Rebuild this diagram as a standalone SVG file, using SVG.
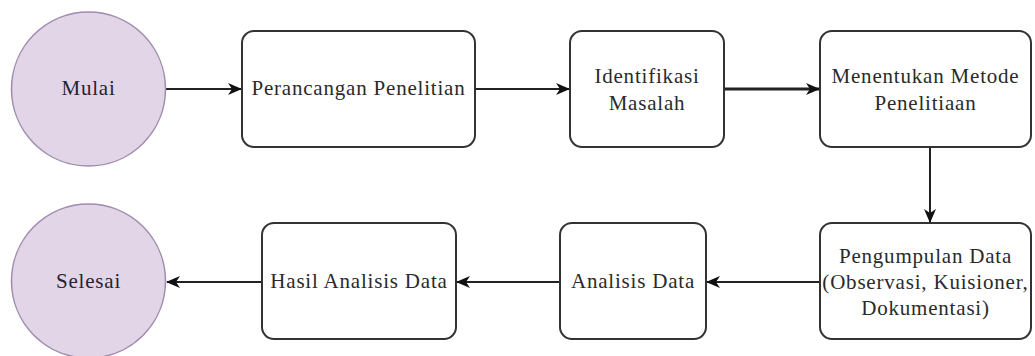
<svg xmlns="http://www.w3.org/2000/svg" width="1035" height="356" viewBox="0 0 1035 356">
<defs>
<marker id="arr" markerUnits="userSpaceOnUse" markerWidth="14" markerHeight="12" viewBox="0 0 14 12" refX="13" refY="6" orient="auto">
<path d="M0,0 L14,6 L0,12 L4,6 Z" fill="#111111"/>
</marker>
</defs>
<rect x="0" y="0" width="1035" height="356" fill="#ffffff"/>
<g id="connectors" fill="none" stroke="#222222" stroke-width="2">
<line x1="166" y1="89" x2="241" y2="89" marker-end="url(#arr)"/>
<line x1="475" y1="89" x2="569" y2="89" marker-end="url(#arr)"/>
<line x1="724" y1="89" x2="819" y2="89" stroke-width="3" marker-end="url(#arr)"/>
<line x1="930" y1="147" x2="930" y2="222" marker-end="url(#arr)"/>
<line x1="820" y1="282" x2="707" y2="282" marker-end="url(#arr)"/>
<line x1="560" y1="282" x2="457" y2="282" marker-end="url(#arr)"/>
<line x1="262" y1="282" x2="167" y2="282" marker-end="url(#arr)"/>
</g>
<g id="mulai">
<circle cx="88.5" cy="89" r="77" fill="#e1d5e7" stroke="#a08cac" stroke-width="1.5"/>
<text font-family="Liberation Serif" font-size="21" letter-spacing="0.8" fill="#2a1f33" text-anchor="middle" x="88.5" y="95">Mulai</text>
</g>
<g id="perancangan">
<rect x="242" y="31" width="233" height="116" rx="12" ry="12" fill="#ffffff" stroke="#333333" stroke-width="2"/>
<text font-family="Liberation Serif" font-size="21" letter-spacing="0.8" fill="#2a2a2a" text-anchor="middle" x="358.5" y="95">Perancangan Penelitian</text>
</g>
<g id="identifikasi">
<rect x="570" y="31" width="154" height="116" rx="12" ry="12" fill="#ffffff" stroke="#333333" stroke-width="2"/>
<text font-family="Liberation Serif" font-size="21" letter-spacing="0.8" fill="#2a2a2a" text-anchor="middle" x="647" y="83">Identifikasi</text>
<text font-family="Liberation Serif" font-size="21" letter-spacing="0.8" fill="#2a2a2a" text-anchor="middle" x="647" y="110">Masalah</text>
</g>
<g id="metode">
<rect x="820" y="31" width="211" height="116" rx="12" ry="12" fill="#ffffff" stroke="#333333" stroke-width="2"/>
<text font-family="Liberation Serif" font-size="21" letter-spacing="0.8" fill="#2a2a2a" text-anchor="middle" x="925.5" y="83">Menentukan Metode</text>
<text font-family="Liberation Serif" font-size="21" letter-spacing="0.8" fill="#2a2a2a" text-anchor="middle" x="925.5" y="110">Penelitiaan</text>
</g>
<g id="pengumpulan">
<rect x="820" y="223" width="211" height="116" rx="12" ry="12" fill="#ffffff" stroke="#333333" stroke-width="2"/>
<text font-family="Liberation Serif" font-size="21" letter-spacing="0.8" fill="#2a2a2a" text-anchor="middle" x="925.5" y="263">Pengumpulan Data</text>
<text font-family="Liberation Serif" font-size="21" letter-spacing="0.8" fill="#2a2a2a" text-anchor="middle" x="925.5" y="289">(Observasi, Kuisioner,</text>
<text font-family="Liberation Serif" font-size="21" letter-spacing="0.8" fill="#2a2a2a" text-anchor="middle" x="925.5" y="315">Dokumentasi)</text>
</g>
<g id="analisis">
<rect x="560" y="223" width="146" height="116" rx="12" ry="12" fill="#ffffff" stroke="#333333" stroke-width="2"/>
<text font-family="Liberation Serif" font-size="21" letter-spacing="0.8" fill="#2a2a2a" text-anchor="middle" x="633" y="288">Analisis Data</text>
</g>
<g id="hasil">
<rect x="262" y="223" width="194" height="116" rx="12" ry="12" fill="#ffffff" stroke="#333333" stroke-width="2"/>
<text font-family="Liberation Serif" font-size="21" letter-spacing="0.8" fill="#2a2a2a" text-anchor="middle" x="359" y="288">Hasil Analisis Data</text>
</g>
<g id="selesai">
<circle cx="88.5" cy="281" r="77" fill="#e1d5e7" stroke="#a08cac" stroke-width="1.5"/>
<text font-family="Liberation Serif" font-size="21" letter-spacing="0.8" fill="#2a1f33" text-anchor="middle" x="88.5" y="288">Selesai</text>
</g>
</svg>
